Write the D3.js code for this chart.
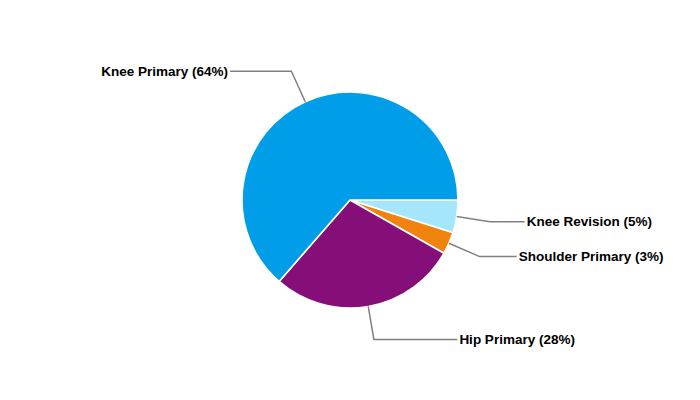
<!DOCTYPE html>
<html>
<head>
<meta charset="utf-8">
<script src="https://cdn.jsdelivr.net/npm/d3@7"></script>
<style>
  html, body { margin: 0; padding: 0; background: #fff; }
  svg { display: block; }
</style>
</head>
<body>
<svg id="chart" width="700" height="400"></svg>
<script>
// Data, in drawing order clockwise from 3 o'clock
const categories = ["Knee Revision", "Shoulder Primary", "Hip Primary", "Knee Primary"];
const values = [4.9, 3.3, 28.2, 63.6];
const colors = ["#A6E6FC", "#F0820E", "#850E78", "#009DE9"];

const W = 700, H = 400;
const cx = 350, cy = 200, r = 108;
const elbowR = r * 1.31;
const labelR = 176;

const svg = d3.select("#chart");
const g = svg.append("g").attr("transform", `translate(${cx},${cy})`);

const total = d3.sum(values);
const data = categories.map((c, i) => ({ name: c, value: values[i], color: colors[i] }));

const pie = d3.pie()
  .sort(null)
  .value(d => d.value)
  .startAngle(Math.PI / 2)
  .endAngle(Math.PI / 2 + 2 * Math.PI);

const arcs = pie(data);
const arc = d3.arc().innerRadius(0).outerRadius(r);
const edgeArc = d3.arc().innerRadius(r).outerRadius(r);
const elbowArc = d3.arc().innerRadius(elbowR).outerRadius(elbowR);

g.selectAll("path.slice")
  .data(arcs)
  .join("path")
  .attr("class", "slice")
  .attr("d", arc)
  .attr("fill", d => d.data.color)
  .attr("stroke", "#fff")
  .attr("stroke-width", 1.6)
  .attr("stroke-linejoin", "round");

// Label layout: leader from slice edge to an elbow, then out to the label
arcs.forEach(d => {
  const mid = (d.startAngle + d.endAngle) / 2;
  d.right = Math.sin(mid) >= 0;
  d.p0 = edgeArc.centroid(d);
  d.p1 = elbowArc.centroid(d);
  const ly = d.p1[1];
  const dx = Math.sqrt(Math.max(labelR * labelR - ly * ly, 0));
  d.p2 = [d.right ? Math.max(dx, d.p1[0] + 20) : Math.min(-dx, d.p1[0] - 20), ly];
});

g.selectAll("polyline.leader")
  .data(arcs)
  .join("polyline")
  .attr("class", "leader")
  .attr("points", d => [d.p0, d.p1, d.p2].map(p => p.join(",")).join(" "))
  .attr("fill", "none")
  .attr("stroke", "#808080")
  .attr("stroke-width", 1.5);

g.selectAll("text.label")
  .data(arcs)
  .join("text")
  .attr("class", "label")
  .attr("x", d => d.p2[0] + (d.right ? 2 : -2))
  .attr("y", d => d.p2[1])
  .attr("dy", "0.35em")
  .attr("text-anchor", d => d.right ? "start" : "end")
  .attr("font-family", "'Liberation Sans', Arial, sans-serif")
  .attr("font-weight", "bold")
  .attr("font-size", "13.5px")
  .attr("fill", "#000")
  .text(d => `${d.data.name} (${Math.round(d.data.value / total * 100)}%)`);
</script>
</body>
</html>
